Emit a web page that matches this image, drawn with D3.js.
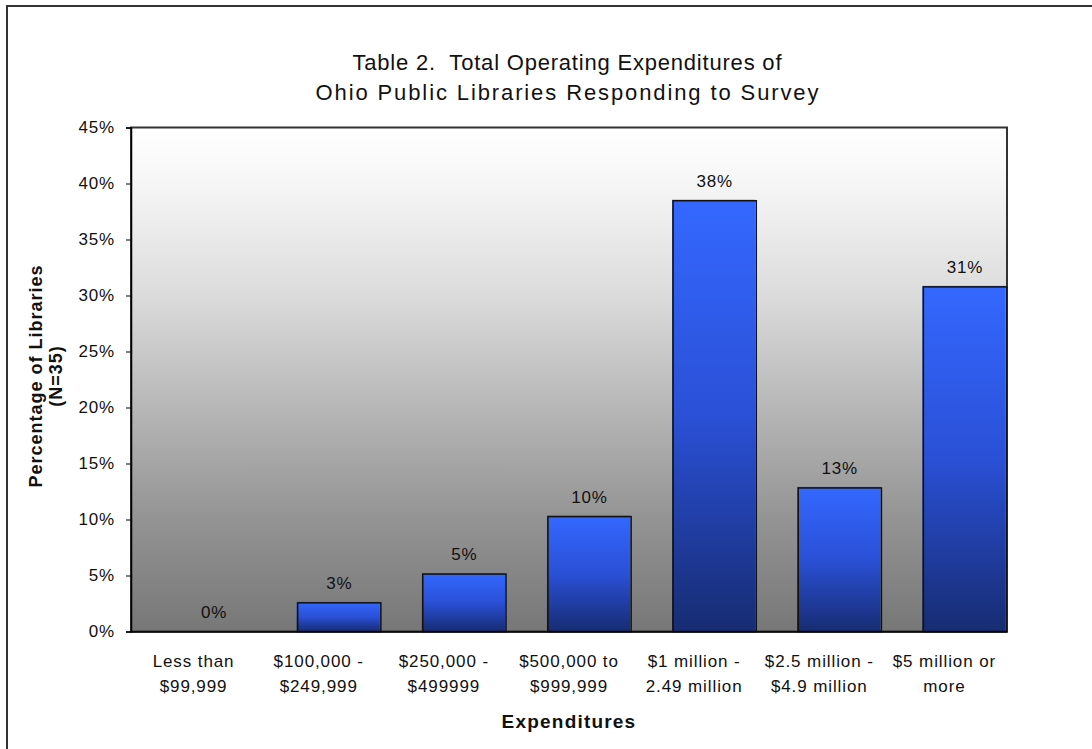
<!DOCTYPE html>
<html>
<head>
<meta charset="utf-8">
<script src="https://cdn.jsdelivr.net/npm/d3@7"></script>
<style>
  html, body { margin: 0; padding: 0; background: #fff; }
  svg { display: block; }
  text { font-family: "Liberation Sans", Arial, sans-serif; fill: #111; }
</style>
</head>
<body>
<svg id="chart" width="1092" height="749"></svg>
<script>
// Expenditure brackets (two-line labels) and share of responding libraries (%)
const categories = [
  ["Less than", "$99,999"],
  ["$100,000 -", "$249,999"],
  ["$250,000 -", "$499999"],
  ["$500,000 to", "$999,999"],
  ["$1 million -", "2.49 million"],
  ["$2.5 million -", "$4.9 million"],
  ["$5 million or", "more"]
];
const percentValues = [0, 2.56, 5.13, 10.26, 38.46, 12.82, 30.77];
const yTicks = [0, 5, 10, 15, 20, 25, 30, 35, 40, 45];
const titleLines = [
  "Table 2.  Total Operating Expenditures of",
  "Ohio Public Libraries Responding to Survey"
];
const titleWidths = [429, 503];
const yTitleLines = ["Percentage of Libraries", "(N=35)"];
const xTitle = "Expenditures";

const svg = d3.select("#chart");
const plot = { left: 131, right: 1007, top: 127.5, bottom: 631.5 };

const defs = svg.append("defs");
const bg = defs.append("linearGradient").attr("id", "plotBg")
  .attr("x1", 0).attr("y1", 0).attr("x2", 0).attr("y2", 1);
[[0, "#ffffff"], [0.1, "#f7f7f7"], [0.33, "#dcdcdc"], [0.56, "#b6b6b6"], [0.78, "#939393"], [1, "#777777"]]
  .forEach(([o, c]) => bg.append("stop").attr("offset", o).attr("stop-color", c));
const barGrad = defs.append("linearGradient").attr("id", "barFill")
  .attr("x1", 0).attr("y1", 0).attr("x2", 0).attr("y2", 1);
[[0, "#3468ff"], [0.5, "#2a50d6"], [1, "#172c72"]]
  .forEach(([o, c]) => barGrad.append("stop").attr("offset", o).attr("stop-color", c));

// Outer chart frame (runs off the right/bottom of the page)
svg.append("rect")
  .attr("x", 7).attr("y", 6).attr("width", 1200).attr("height", 900)
  .attr("fill", "none").attr("stroke", "#333").attr("stroke-width", 2);

const x = d3.scaleBand()
  .domain(d3.range(categories.length))
  .range([plot.left, plot.right])
  .padding(0);
const y = d3.scaleLinear().domain([0, 45]).range([plot.bottom, plot.top]);

// Plot area background
svg.append("rect")
  .attr("x", plot.left).attr("y", plot.top)
  .attr("width", plot.right - plot.left).attr("height", plot.bottom - plot.top)
  .attr("fill", "url(#plotBg)")
  .attr("stroke", "#333").attr("stroke-width", 2);

// Bars sit right of the category centre, as in the original clustered layout
const bw = x.bandwidth();
const barW = bw * 0.665;
const barShift = bw * 0.164;
const barX = i => x(i) + bw / 2 + barShift - barW / 2;

const bars = svg.append("g");
percentValues.forEach((v, i) => {
  if (v <= 0) return;
  const top = y(v), h = y(0) - y(v);
  bars.append("rect")
    .attr("x", barX(i) - 1).attr("y", top - 1)
    .attr("width", barW).attr("height", h + 1)
    .attr("fill", "url(#barFill)");
  bars.append("rect")
    .attr("x", barX(i)).attr("y", top)
    .attr("width", barW).attr("height", h)
    .attr("fill", "none").attr("stroke", "#111").attr("stroke-width", 1.5);
});

// Value labels
svg.append("g").selectAll("text")
  .data(percentValues)
  .join("text")
  .attr("x", (d, i) => barX(i) + barW / 2)
  .attr("y", d => y(d) - 14)
  .attr("text-anchor", "middle")
  .style("font-size", "17px")
  .style("letter-spacing", "0.8px")
  .text(d => Math.round(d) + "%");

// Y axis
const yAxis = svg.append("g")
  .attr("transform", `translate(${plot.left},0)`)
  .call(d3.axisLeft(y).tickValues(yTicks).tickSize(5).tickPadding(11)
    .tickFormat(d => d + "%"));
yAxis.select(".domain").attr("stroke", "#000").attr("stroke-width", 1.5);
yAxis.selectAll(".tick line").attr("stroke", "#000");
yAxis.selectAll(".tick text")
  .attr("fill", "#111")
  .style("font-size", "17px")
  .style("letter-spacing", "0.8px")
  .style("font-family", '"Liberation Sans", Arial, sans-serif');

// X axis baseline and two-line category labels
const xAxis = svg.append("g")
  .attr("transform", `translate(0,${plot.bottom})`)
  .call(d3.axisBottom(x).tickSize(0).tickFormat(""));
xAxis.select(".domain").attr("stroke", "#000").attr("stroke-width", 1.5);

const catLabels = svg.append("g").selectAll("text")
  .data(categories)
  .join("text")
  .attr("x", (d, i) => x(i) + bw / 2)
  .attr("y", 667)
  .attr("text-anchor", "middle")
  .style("font-size", "17px")
  .style("letter-spacing", "0.9px");
catLabels.each(function(d) {
  const t = d3.select(this);
  d.forEach((line, k) => {
    t.append("tspan").attr("x", t.attr("x")).attr("dy", k === 0 ? 0 : 25).text(line);
  });
});

// Title
svg.append("g").selectAll("text")
  .data(titleLines)
  .join("text")
  .attr("x", 567)
  .attr("y", (d, i) => 70 + i * 30)
  .attr("text-anchor", "middle")
  .attr("textLength", (d, i) => titleWidths[i])
  .attr("lengthAdjust", "spacing")
  .style("font-size", "22px")
  .style("white-space", "pre")
  .text(d => d);

// Y axis title
const yTitle = svg.append("text")
  .attr("transform", "translate(42,376) rotate(-90)")
  .attr("text-anchor", "middle")
  .style("font-size", "18px")
  .style("font-weight", "bold")
  .style("letter-spacing", "1px");
yTitleLines.forEach((line, k) => {
  yTitle.append("tspan").attr("x", 0).attr("dy", k === 0 ? 0 : 20).text(line);
});

// X axis title
svg.append("text")
  .attr("x", 569).attr("y", 728)
  .attr("text-anchor", "middle")
  .style("font-size", "19px")
  .style("font-weight", "bold")
  .style("letter-spacing", "1.2px")
  .text(xTitle);
</script>
</body>
</html>
